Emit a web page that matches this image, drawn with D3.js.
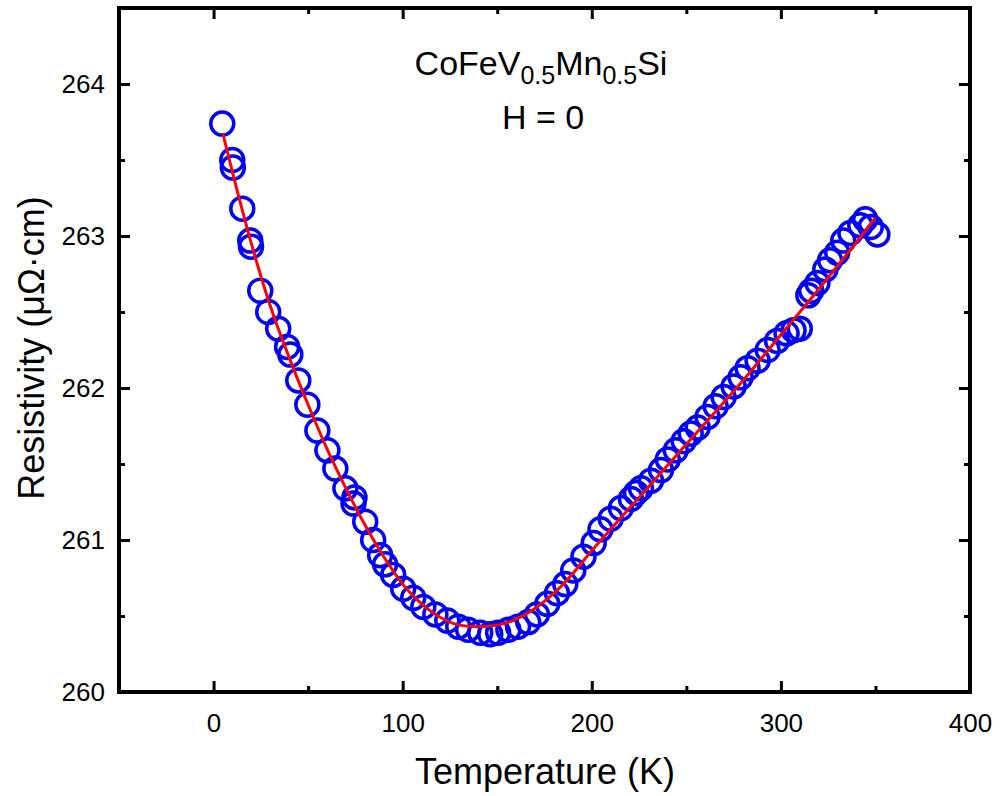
<!DOCTYPE html>
<html>
<head>
<meta charset="utf-8">
<script src="https://cdn.jsdelivr.net/npm/d3@7"></script>
<style>
  body { margin: 0; background: #fff; }
  text { font-family: "Liberation Sans", Arial, sans-serif; }
</style>
</head>
<body>
<div id="chart"></div>
<script>
// measured points, temperature (K)
const temps = [4.6, 9.9, 10.2, 15.2, 19.4, 19.8, 24.7, 28.9, 34.2, 38.9, 40.6, 44.8, 49.6, 54.9, 60.2,
  64.4, 69.7, 74.0, 74.5, 80.2, 84.4, 88.1, 90.7, 95.0, 100.3, 105.6, 110.9, 117.3, 123.6, 129.4,
  134.6, 141.0, 146.3, 150.5, 155.9, 161.0, 166.4, 171.0, 176.5, 181.6, 186.0, 190.2, 195.6, 201.0,
  204.6, 210.0, 215.4, 220.7, 223.4, 226.0, 231.3, 236.6, 240.2, 244.4, 248.6, 252.3, 256.0, 261.2,
  265.5, 269.7, 275.0, 278.7, 282.4, 287.7, 293.0, 298.0, 303.0, 306.7, 310.0, 314.5, 316.0, 319.3,
  323.5, 326.0, 329.8, 333.0, 336.8, 342.0, 344.6, 347.5, 351.0];
// resistivity (µΩ·cm)
const resist = [263.74, 263.50, 263.45, 263.18, 262.97, 262.93, 262.64, 262.50, 262.39, 262.27, 262.22, 262.05, 261.89, 261.72, 261.59,
  261.47, 261.34, 261.24, 261.28, 261.12, 261.00, 260.90, 260.84, 260.77, 260.68, 260.62, 260.56, 260.51, 260.47, 260.43,
  260.41, 260.39, 260.38, 260.39, 260.41, 260.43, 260.46, 260.51, 260.58, 260.65, 260.71, 260.80, 260.89, 260.98,
  261.07, 261.14, 261.21, 261.27, 261.31, 261.34, 261.39, 261.46, 261.53, 261.59, 261.65, 261.70, 261.74, 261.81,
  261.88, 261.94, 262.01, 262.07, 262.13, 262.18, 262.25, 262.31, 262.36, 262.38, 262.39, 262.61, 262.64, 262.69,
  262.78, 262.84, 262.89, 262.97, 263.02, 263.07, 263.11, 263.06, 263.01];

// fitted curve
const fitT = [5, 10, 20, 30, 40, 50, 60, 70, 80, 90, 100, 110, 120, 130, 140, 150, 160, 170, 180, 190,
  200, 220, 240, 260, 280, 300, 320, 340, 350];
const fitR = [263.67, 263.42, 262.95, 262.54, 262.20, 261.89, 261.60, 261.34, 261.10, 260.89, 260.71, 260.58, 260.49, 260.44, 260.43, 260.44, 260.48, 260.55, 260.65, 260.78,
  260.93, 261.21, 261.49, 261.77, 262.05, 262.35, 262.65, 262.96, 263.12];

const xTicks = [0, 100, 200, 300, 400];
const yTicks = [260, 261, 262, 263, 264];

const width = 1001, height = 796;
const pLeft = 119, pRight = 970, pTop = 8, pBottom = 692;

const svg = d3.select("#chart").append("svg")
    .attr("width", width)
    .attr("height", height);

const x = d3.scaleLinear().domain([-50, 400]).range([pLeft, pRight]);
const y = d3.scaleLinear().domain([260, 264.5]).range([pBottom, pTop]);

const plot = svg.append("g");

// data circles
plot.selectAll("circle")
    .data(temps.map((t, i) => [t, resist[i]]))
    .enter()
    .append("circle")
    .attr("cx", d => x(d[0]))
    .attr("cy", d => y(d[1]))
    .attr("r", 11.5)
    .attr("fill", "none")
    .attr("stroke", "#0000ff")
    .attr("stroke-width", 3.5);

// fit line
const line = d3.line()
    .x(d => x(d[0]))
    .y(d => y(d[1]))
    .curve(d3.curveMonotoneX);

plot.append("path")
    .datum(fitT.map((t, i) => [t, fitR[i]]))
    .attr("d", line)
    .attr("fill", "none")
    .attr("stroke", "#ff0000")
    .attr("stroke-width", 3);

// axes, ticks pointing inward on all four sides
function styleAxis(g) {
    g.select(".domain").remove();
    g.selectAll("line").attr("stroke", "#000").attr("stroke-width", 3);
}
const minorX = [-50, 50, 150, 250, 350];
const minorY = [260.5, 261.5, 262.5, 263.5];

svg.append("g").attr("transform", `translate(0,${pBottom})`)
    .call(d3.axisBottom(x).tickValues(xTicks).tickSize(-11).tickPadding(22).tickFormat(d3.format("d")))
    .call(styleAxis)
    .call(g => g.selectAll("text").attr("font-size", 26).attr("fill", "#000"));
svg.append("g").attr("transform", `translate(0,${pBottom})`)
    .call(d3.axisBottom(x).tickValues(minorX).tickSize(-6).tickFormat(""))
    .call(styleAxis);
svg.append("g").attr("transform", `translate(0,${pTop})`)
    .call(d3.axisTop(x).tickValues(xTicks).tickSize(-11).tickFormat(""))
    .call(styleAxis);
svg.append("g").attr("transform", `translate(0,${pTop})`)
    .call(d3.axisTop(x).tickValues(minorX).tickSize(-6).tickFormat(""))
    .call(styleAxis);

svg.append("g").attr("transform", `translate(${pLeft},0)`)
    .call(d3.axisLeft(y).tickValues(yTicks).tickSize(-11).tickPadding(14).tickFormat(d3.format("d")))
    .call(styleAxis)
    .call(g => g.selectAll("text").attr("font-size", 26).attr("fill", "#000"));
svg.append("g").attr("transform", `translate(${pLeft},0)`)
    .call(d3.axisLeft(y).tickValues(minorY).tickSize(-6).tickFormat(""))
    .call(styleAxis);
svg.append("g").attr("transform", `translate(${pRight},0)`)
    .call(d3.axisRight(y).tickValues(yTicks).tickSize(-11).tickFormat(""))
    .call(styleAxis);
svg.append("g").attr("transform", `translate(${pRight},0)`)
    .call(d3.axisRight(y).tickValues(minorY).tickSize(-6).tickFormat(""))
    .call(styleAxis);

// frame
svg.append("rect")
    .attr("x", pLeft).attr("y", pTop)
    .attr("width", pRight - pLeft).attr("height", pBottom - pTop)
    .attr("fill", "none")
    .attr("stroke", "#000")
    .attr("stroke-width", 4);

// axis titles
svg.append("text")
    .attr("x", 545)
    .attr("y", 784)
    .attr("text-anchor", "middle")
    .attr("font-size", 36)
    .text("Temperature (K)");

svg.append("text")
    .attr("transform", `translate(44,348) rotate(-90)`)
    .attr("text-anchor", "middle")
    .attr("font-size", 36)
    .text("Resistivity (μΩ·cm)");

// sample label
const label = svg.append("text")
    .attr("x", 541)
    .attr("y", 75)
    .attr("text-anchor", "middle")
    .attr("font-size", 34);
label.append("tspan").text("CoFeV");
label.append("tspan").attr("font-size", 25).attr("dy", 9).text("0.5");
label.append("tspan").attr("dy", -9).text("Mn");
label.append("tspan").attr("font-size", 25).attr("dy", 9).text("0.5");
label.append("tspan").attr("dy", -9).text("Si");

svg.append("text")
    .attr("x", 543)
    .attr("y", 129)
    .attr("text-anchor", "middle")
    .attr("font-size", 34)
    .text("H = 0");
</script>
</body>
</html>
